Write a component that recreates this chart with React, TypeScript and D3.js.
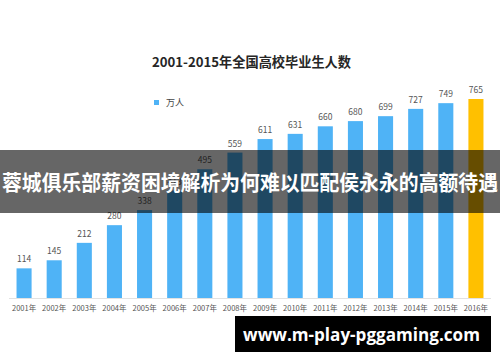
import React from 'react';
import * as d3 from 'd3';

// chart data
const years = ['2001', '2002', '2003', '2004', '2005', '2006', '2007', '2008',
    '2009', '2010', '2011', '2012', '2013', '2014', '2015', '2016'];
const graduates = [114, 145, 212, 280, 338, 413, 495, 559, 611, 631, 660, 680, 699, 727, 749, 765];
const titleText = '2001-2015年全国高校毕业生人数';
const legendLabel = '万人';
const bannerText = '蓉城俱乐部薪资困境解析为何难以匹配侯永永的高额待遇';
const watermarkText = 'www.m-play-pggaming.com';

const W = 500;
const H = 362;
const CJK = '"Noto Sans CJK SC", "Noto Sans", sans-serif';

const App: React.FC = () => {
    const x = d3.scaleBand<string>()
        .domain(years)
        .range([9, 491])
        .paddingInner(0.5)
        .paddingOuter(0.25);

    const y = d3.scaleLinear()
        .domain([0, d3.max(graduates) as number])
        .range([298, 99]);

    const lastYear = years[years.length - 1];

    return (
        <div style={{ position: 'absolute', left: 0, top: 0 }}>
            <svg width={W} height={H} style={{ display: 'block', background: '#fff' }}>
                {/* title */}
                <text x={152} y={67} textLength={199} lengthAdjust="spacingAndGlyphs"
                    fontFamily={CJK} fontWeight="bold" fontSize={13.5} fill="#262626">{titleText}</text>

                {/* legend */}
                <rect x={154} y={100} width={5} height={5} fill="#4FB3F6" />
                <text x={166} y={106} fontFamily={CJK} fontSize={9} fill="#444">{legendLabel}</text>

                {/* axis line */}
                <line x1={9} x2={491} y1={298.5} y2={298.5} stroke="#e2e2e2" />

                {/* bars */}
                {years.map((yr, i) => (
                    <g key={yr}>
                        <rect x={x(yr)} y={y(graduates[i])} width={x.bandwidth()}
                            height={y(0) - y(graduates[i])}
                            fill={yr === lastYear ? '#FFC000' : '#4FB3F6'} />
                        <text x={(x(yr) as number) + x.bandwidth() / 2} y={y(graduates[i]) - 6}
                            textAnchor="middle" fontFamily={CJK} fontSize={8.5} fill="#555">
                            {graduates[i]}
                        </text>
                        <text x={(x(yr) as number) + x.bandwidth() / 2} y={311}
                            textAnchor="middle" fontFamily={CJK} fontSize={7.5} fill="#555">
                            {yr + '年'}
                        </text>
                    </g>
                ))}

                {/* overlay banner */}
                <rect x={0} y={150} width={W} height={63} fill="#000" fillOpacity={0.6} />
                <text x={2} y={190} textLength={496} lengthAdjust="spacingAndGlyphs"
                    fontFamily={CJK} fontWeight="bold" fontSize={21} fill="#fff">{bannerText}</text>

                {/* watermark */}
                <rect x={235} y={316} width={256} height={36} fill="#000" />
                <text x={243} y={341} textLength={237} lengthAdjust="spacingAndGlyphs"
                    fontFamily={'"Open Sans", "DejaVu Sans", sans-serif'}
                    fontWeight="bold" fontSize={18} fill="#fff">{watermarkText}</text>
            </svg>
        </div>
    );
};

export default App;
